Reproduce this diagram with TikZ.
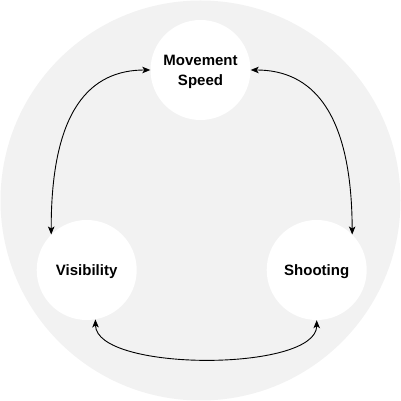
\documentclass[tikz,border=0pt]{standalone}
\usepackage{fontspec}
\setmainfont{Liberation Sans}
\usetikzlibrary{arrows.meta}
\definecolor{bggray}{HTML}{F2F2F2}
\begin{document}
\begin{tikzpicture}[x=1pt,y=1pt,
  topic/.style={circle,fill=white,minimum size=100pt,inner sep=0pt},
  topictext/.style={align=center,yshift=-2pt,font=\fontsize{15}{20}\selectfont\bfseries},
  link/.style={line width=0.9pt,{Stealth[length=8pt,width=6.5pt,inset=2pt]}-{Stealth[length=8pt,width=6.5pt,inset=2pt]}}]
\useasboundingbox (0,0) rectangle (401,401);
\fill[bggray] (200.5,200.5) circle (200);
\node[topic,label={[topictext]center:Movement\\Speed}] (ms) at (200.5,331) {};
\node[topic,label={[topictext]center:Visibility}] (vis) at (86.7,131) {};
\node[topic,label={[topictext]center:Shooting}] (sh) at (316.7,131) {};
\draw[link] (vis.135) .. controls (51,291) and (90,331) .. (ms.west);
\draw[link] (ms.east) .. controls (311,331) and (351.7,291) .. (sh.45);
\draw[link] (vis.-80) .. controls (96,29) and (316.7,29) .. (sh.south);
\end{tikzpicture}
\end{document}
